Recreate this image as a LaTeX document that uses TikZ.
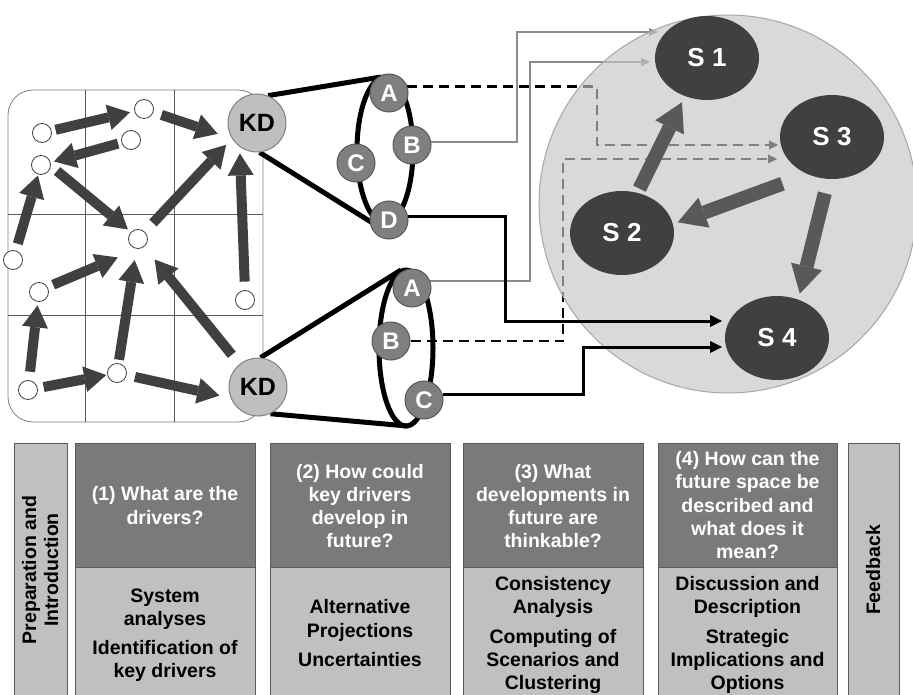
\documentclass[tikz,border=0pt]{standalone}
\usepackage{fontspec}
\setmainfont{Liberation Sans}
\usetikzlibrary{arrows.meta,shapes.geometric}
\definecolor{dk}{HTML}{404040}
\definecolor{sarrc}{HTML}{595959}
\definecolor{gm}{HTML}{7F7F7F}
\definecolor{gd}{HTML}{595959}
\definecolor{gl}{HTML}{BFBFBF}
\definecolor{ov}{HTML}{C4C4C4}
\definecolor{ovb}{HTML}{A6A6A6}
\definecolor{glinec}{HTML}{8C8C8C}
\definecolor{tdark}{HTML}{7A7A7A}
\definecolor{tlight}{HTML}{C0C0C0}
\definecolor{tbord}{HTML}{5A5A5A}
\newcommand\myfs[1]{\fontsize{#1}{#1}\selectfont}
\pgfdeclarelayer{bg}
\pgfsetlayers{bg,main}
\begin{document}
\begin{tikzpicture}[x=1pt,y=-1pt,
  smallc/.style={circle,draw=dk,line width=0.8pt,fill=white,minimum size=19pt,inner sep=0},
  kd/.style={circle,draw=gm,line width=1pt,fill=gl,minimum size=58pt,inner sep=0,font=\myfs{25}\bfseries},
  letter/.style={circle,draw=gd,line width=1pt,fill=gm,minimum size=38pt,inner sep=0,text=white,font=\myfs{24}\bfseries},
  scen/.style={ellipse,fill=dk,minimum width=104pt,minimum height=84pt,inner sep=0,text=white,font=\myfs{26}\bfseries},
  kdarr/.style={draw=dk,line width=10pt,-{Triangle[length=22pt,width=26pt,line width=0pt]}},
  sarr/.style={draw=sarrc,line width=14pt,-{Triangle[length=28pt,width=32pt,line width=0pt]}},
  cone/.style={line width=5pt,draw=black},
  gconn/.style={draw=glinec,line width=2pt,-{Triangle[length=9pt,width=8pt,line width=0pt]}},
  dconn/.style={draw=black,line width=2.5pt,dash pattern=on 10pt off 6pt,-{Triangle[length=9pt,width=9pt,line width=0pt]}},
  bconn/.style={draw=black,line width=3pt,-{Triangle[length=12pt,width=12pt,line width=0pt]}},
  darkbox/.style={fill=tdark,draw=tbord,line width=0.8pt},
  lightbox/.style={fill=tlight,draw=tbord,line width=0.8pt},
  qt/.style={anchor=base,inner sep=0,text=white,font=\myfs{19.5}\bfseries},
  lt/.style={anchor=base,inner sep=0,text=black,font=\myfs{19.5}\bfseries}
]
\useasboundingbox (0,0) rectangle (913,695);

% ---------- nodes ----------
\node[smallc] (n1) at (42,133) {};
\node[smallc] (n2) at (144,109) {};
\node[smallc] (n3) at (131,140) {};
\node[smallc] (n4) at (41,165) {};
\node[smallc] (n5) at (138,239) {};
\node[smallc] (n6) at (13,260) {};
\node[smallc] (n7) at (39,292) {};
\node[smallc] (n8) at (245,300) {};
\node[smallc] (n9) at (28,390) {};
\node[smallc] (n10) at (117,373) {};
\node[kd] (kd1) at (257,123) {KD};
\node[kd] (kd2) at (258,387) {KD};

\node[letter] (tA) at (389,93) {A};
\node[letter] (tB) at (412,145) {B};
\node[letter] (tC) at (356,163) {C};
\node[letter] (tD) at (389,220) {D};
\node[letter] (bA) at (412,288) {A};
\node[letter] (bB) at (391,341) {B};
\node[letter] (bC) at (424,400) {C};

\coordinate (e1) at (658,32);
\coordinate (e2) at (650,62);
\coordinate (e3) at (778,145);
\coordinate (e4) at (777,159);
\coordinate (e5) at (722,321);
\coordinate (e6) at (722,347);

% ---------- background layer ----------
\begin{pgfonlayer}{bg}
\draw[draw=gm,line width=0.8pt,rounded corners=25pt] (8,90) rectangle (263,422);
\draw[draw=gd,line width=0.8pt] (85,90) -- (85,422) (174,90) -- (174,422)
  (8,214) -- (263,214) (8,315) -- (263,315);
\draw[cone] (385,150) ellipse (28 and 73);
\draw[cone] (406,348) ellipse (27 and 78);
\draw[cone] (kd1.68) -- (381,77);
\draw[cone] (kd1.-85) -- (371,222);
\draw[cone] (kd2.85) -- (401,270);
\draw[cone] (kd2.-65) -- (407,426);
% connectors under the circle
\draw[gconn] (tB.10) -| (517,32) -- (e1);
\draw[gconn] (bA.20) -| (530,62) -- (e2);
\draw[dconn] (tA.20) -| (597,145) -- (e3);
\draw[dconn] (bB.east) -| (563,159) -- (e4);
% big circle overlay
\fill[ov,fill opacity=0.65] (728,204) circle (189);
\draw[ovb,line width=1pt] (728,204) circle (189);
\end{pgfonlayer}

% ---------- KD graph arrows ----------
\draw[kdarr,shorten <=4pt,shorten >=4.5pt] (n1) -- (n2);
\draw[kdarr,shorten <=8.5pt,shorten >=15pt] (n2) -- (kd1.212);
\draw[kdarr,shorten <=3.5pt,shorten >=3.5pt] (n3) -- (n4);
\draw[kdarr,shorten <=8pt,shorten >=4pt] (n4.-5) -- (n5.135);
\draw[kdarr,shorten <=12pt,shorten >=8.5pt] (n5) -- (kd1.212);
\draw[kdarr,shorten <=7pt,shorten >=1pt] (n6) -- (n4);
\draw[kdarr,shorten <=6pt,shorten >=22pt] (n7.30) -- (n5.south);
\draw[kdarr,shorten <=8.5pt,shorten >=6.5pt] (n8.north) -- (kd1.234);
\draw[kdarr,shorten <=8.5pt,shorten >=3.5pt] (n9) -- (n7);
\draw[kdarr,shorten <=6pt,shorten >=1pt] (n9) -- (n10);
\draw[kdarr,shorten <=3.5pt,shorten >=11.5pt] (n10) -- (n5);
\draw[kdarr,shorten <=12pt,shorten >=16.5pt] (kd2) -- (n5);
\draw[kdarr,shorten <=8.5pt,shorten >=11.5pt] (n10) -- (kd2.202);

% ---------- scenarios ----------
\node[scen] (s1) at (707,58) {S 1};
\node[scen] (s2) at (622,233) {S 2};
\node[scen] (s3) at (832,137) {S 3};
\node[scen] (s4) at (777,338) {S 4};

\draw[bconn] (tD.10) -| (505,321) -- (e5);
\draw[bconn] (bC.15) -| (583,347) -- (e6);

\draw[sarr,shorten <=4.5pt,shorten >=6.7pt] (s2.69) -- (s1.240);
\draw[sarr,shorten <=27pt,shorten >=5pt] (s3.237) -- (s2.10);
\draw[sarr,shorten <=14.5pt,shorten >=6pt] (s3.265) -- (s4.61);

% ---------- table ----------
\draw[lightbox] (14,443) rectangle (67,698);
\draw[darkbox] (75,443) rectangle (255,567);
\draw[lightbox] (75,567) rectangle (255,698);
\draw[darkbox] (270,443) rectangle (450,567);
\draw[lightbox] (270,567) rectangle (450,698);
\draw[darkbox] (463,443) rectangle (643,567);
\draw[lightbox] (463,567) rectangle (643,698);
\draw[darkbox] (658,443) rectangle (837,567);
\draw[lightbox] (658,567) rectangle (837,698);
\draw[lightbox] (848,443) rectangle (899,698);

\node[lt,rotate=90] (p1) at (36,570) {Preparation and};
\node[lt,rotate=90] (p2) at (58,570) {Introduction};
\node[lt,rotate=90] (fb) at (880,570) {Feedback};

\node[qt] (q1a) at (165,500) {(1) What are the};
\node[qt] (q1b) at (165,524) {drivers?};
\node[lt] (a1a) at (165,602) {System};
\node[lt] (a1b) at (165,625) {analyses};
\node[lt] (a1c) at (165,654) {Identification of};
\node[lt] (a1d) at (165,677) {key drivers};

\node[qt] (q2a) at (360,478) {(2) How could};
\node[qt] (q2b) at (360,501) {key drivers};
\node[qt] (q2c) at (360,524) {develop in};
\node[qt] (q2d) at (360,547) {future?};
\node[lt] (a2a) at (360,613) {Alternative};
\node[lt] (a2b) at (360,637) {Projections};
\node[lt] (a2c) at (360,666) {Uncertainties};

\node[qt] (q3a) at (553,478) {(3) What};
\node[qt] (q3b) at (553,501) {developments in};
\node[qt] (q3c) at (553,524) {future are};
\node[qt] (q3d) at (553,547) {thinkable?};
\node[lt] (a3a) at (553,590) {Consistency};
\node[lt] (a3b) at (553,613) {Analysis};
\node[lt] (a3c) at (553,643) {Computing of};
\node[lt] (a3d) at (553,666) {Scenarios and};
\node[lt] (a3e) at (553,689) {Clustering};

\node[qt] (q4a) at (747.5,465) {(4) How can the};
\node[qt] (q4b) at (747.5,488) {future space be};
\node[qt] (q4c) at (747.5,512) {described and};
\node[qt] (q4d) at (747.5,535) {what does it};
\node[qt] (q4e) at (747.5,558) {mean?};
\node[lt] (a4a) at (747.5,590) {Discussion and};
\node[lt] (a4b) at (747.5,613) {Description};
\node[lt] (a4c) at (747.5,643) {Strategic};
\node[lt] (a4d) at (747.5,666) {Implications and};
\node[lt] (a4e) at (747.5,689) {Options};
\end{tikzpicture}
\end{document}
